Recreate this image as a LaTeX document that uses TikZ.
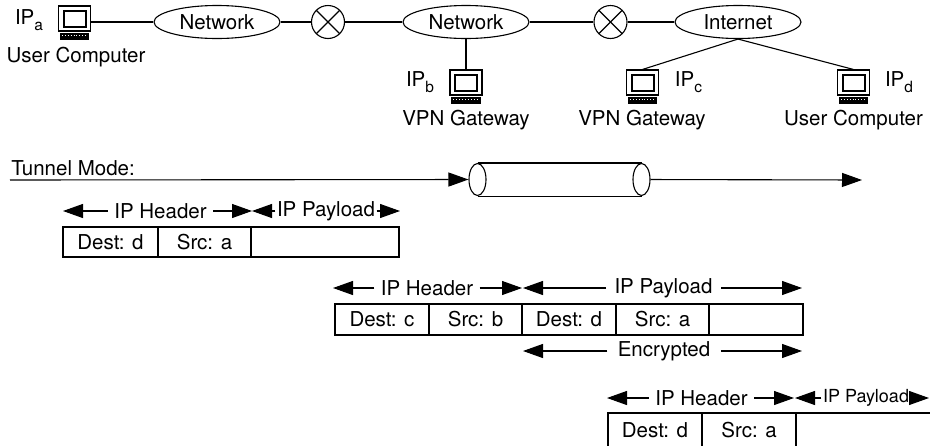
\documentclass[tikz,border=0pt]{standalone}
\usepackage{fontspec}
\setmainfont{TeX Gyre Heros}
\usetikzlibrary{arrows.meta,shapes.geometric}
\tikzset{
    net/.style={draw, ellipse, inner sep=0pt, minimum width=126pt, minimum height=33pt},
    crossing/.style={draw, circle, inner sep=0pt, minimum size=33pt, path picture={
        \draw (path picture bounding box.north west) -- (path picture bounding box.south east);
        \draw (path picture bounding box.north east) -- (path picture bounding box.south west);}},
    monitor/.style={draw, inner sep=0pt, minimum width=32pt, minimum height=25pt},
    lbl/.style={inner sep=0pt},
    spanlbl/.style={inner xsep=6pt, inner ysep=0pt},
    cell/.style={draw, inner sep=0pt, minimum height=31pt},
    span/.style={-{Triangle[length=20pt,width=14pt]}},
    tube/.style={draw, fill=white, ellipse, inner sep=0pt, minimum width=17pt, minimum height=32pt}
}
% computer icon: name, centre of the screen
\newcommand{\computer}[2]{
    \node[monitor] (#1) at (#2) {};
    \node[draw, line width=2pt, inner sep=0pt, minimum width=22pt, minimum height=16pt] (#1scr) at (#1.center) {};
    \node[draw, fill=black, inner sep=0pt, minimum width=28pt, minimum height=5.5pt, anchor=north] (#1kbd) at ([yshift=-1.6pt]#1.south) {};
    \draw[white, line width=0.9pt, dotted] ([xshift=2pt,yshift=0.6pt]#1kbd.west) -- ([xshift=-2pt,yshift=0.6pt]#1kbd.east);
}
\newcommand{\ipsub}[1]{IP\raisebox{-5.5pt}{\fontsize{15.5}{16}\selectfont #1}}
\begin{document}
\begin{tikzpicture}[x=1pt, y=-1pt, font=\fontsize{20.5}{24}\selectfont, line width=1.1pt]
    \useasboundingbox (0,0) rectangle (930,445);
    \clip (0,0) rectangle (930,445);

    % Netze oben
    \computer{pcA}{74.5,18.5}
    \node[net] (netA) at (217,22) {Network};
    \node[crossing] (crossA) at (328,22) {};
    \node[net] (netB) at (466,22) {Network};
    \node[crossing] (crossB) at (610.5,22) {};
    \node[net] (inet) at (738,22) {Internet};
    \computer{pcB}{466,82.5}
    \computer{pcC}{642.5,82.5}
    \computer{pcD}{853.5,82.5}

    \draw (pcA.east |- netA) -- (netA);
    \draw (netA) -- (crossA);
    \draw (crossA) -- (netB);
    \draw (netB) -- (crossB);
    \draw (crossB) -- (inet);
    \draw (netB) -- (pcB);
    \draw (inet.south) -- (pcC.north);
    \draw (inet.south) -- (pcD.north);

    % Beschriftung der Rechner
    \node[lbl] (ipA) at (29,20) {\ipsub{a}};
    \node[lbl] (ipB) at (420,82) {\ipsub{b}};
    \node[lbl] (ipC) at (688.5,82) {\ipsub{c}};
    \node[lbl] (ipD) at (899,82) {\ipsub{d}};
    \node[lbl] (userA) at (76,57) {User Computer};
    \node[lbl] (gateB) at (466,120) {VPN Gateway};
    \node[lbl] (gateC) at (642,120) {VPN Gateway};
    \node[lbl] (userD) at (853.5,120) {User Computer};

    % Tunnel
    \node[lbl] (mode) at (73,168) {Tunnel Mode:};
    \coordinate (tunIn) at (10,180);
    \coordinate (tunOut) at (862,180);
    \node[tube] (tunL) at (477.5,179.5) {};
    \node[tube] (tunR) at (641.5,179.5) {};
    \draw (tunL.north) -- (tunR.north);
    \draw (tunL.south) -- (tunR.south);
    \draw[span] (tunIn) -- (tunL);
    \draw[span] (tunR) -- (tunOut);

    % Paket 1
    \node[spanlbl] (hdrA) at (160.5,211) {IP Header};
    \node[spanlbl, inner xsep=1pt] (payA) at (326,211) {IP Payload};
    \coordinate (hdrAl) at (63,211);
    \coordinate (hdrAr) at (252,211);
    \coordinate (payAl) at (252,211);
    \coordinate (payAr) at (400,211);
    \draw[span] (hdrA) -- (hdrAl);
    \draw[span] (hdrA) -- (hdrAr);
    \draw[span] (payA) -- (payAl);
    \draw[span] (payA) -- (payAr);
    \node[cell, minimum width=95pt, minimum height=30pt] (dstA) at (110.5,242) {Dest: d};
    \node[cell, minimum width=93pt, minimum height=30pt] (srcA) at (204.5,242) {Src: a};
    \node[cell, minimum width=148pt, minimum height=30pt] (bodyA) at (325,242) {};

    % Paket 2
    \node[spanlbl] (hdrB) at (427,288) {IP Header};
    \node[spanlbl, inner xsep=8pt] (payB) at (663.5,288) {IP Payload};
    \coordinate (hdrBl) at (333,288);
    \coordinate (hdrBr) at (522,288);
    \coordinate (payBl) at (523,288);
    \coordinate (payBr) at (802,288);
    \draw[span] (hdrB) -- (hdrBl);
    \draw[span] (hdrB) -- (hdrBr);
    \draw[span] (payB) -- (payBl);
    \draw[span] (payB) -- (payBr);
    \node[cell, minimum width=94pt] (dstB) at (382,319.5) {Dest: c};
    \node[cell, minimum width=93pt] (srcB) at (475.5,319.5) {Src: b};
    \node[cell, minimum width=94pt] (dstC) at (569,319.5) {Dest: d};
    \node[cell, minimum width=93pt] (srcC) at (662.5,319.5) {Src: a};
    \node[cell, minimum width=94pt] (bodyB) at (756,319.5) {};
    \node[spanlbl, inner xsep=10pt] (crypt) at (664,351) {Encrypted};
    \coordinate (cryptl) at (523,351);
    \coordinate (cryptr) at (802,351);
    \draw[span] (crypt) -- (cryptl);
    \draw[span] (crypt) -- (cryptr);

    % Paket 3
    \node[spanlbl] (hdrC) at (701.5,398) {IP Header};
    \node[spanlbl, inner xsep=1pt, font=\fontsize{18}{22}\selectfont] (payC) at (866,398) {IP Payload};
    \coordinate (hdrCl) at (607,398);
    \coordinate (hdrCr) at (794,398);
    \coordinate (payCl) at (795,398);
    \coordinate (payCr) at (929,398);
    \draw[span] (hdrC) -- (hdrCl);
    \draw[span] (hdrC) -- (hdrCr);
    \draw[span] (payC) -- (payCl);
    \draw[span] (payC) -- (payCr);
    \node[cell, minimum width=94pt, minimum height=34pt] (dstD) at (655,430) {Dest: d};
    \node[cell, minimum width=94pt, minimum height=34pt] (srcD) at (749,430) {Src: a};
    \node[cell, minimum width=140pt, minimum height=34pt] (bodyD) at (866,430) {};
\end{tikzpicture}
\end{document}
